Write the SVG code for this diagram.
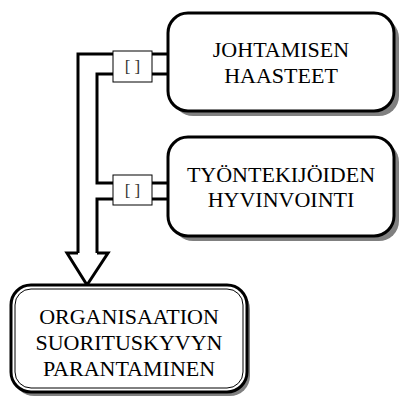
<svg xmlns="http://www.w3.org/2000/svg" width="401" height="406" viewBox="0 0 401 406">
  <style>
    .node { fill: #ffffff; stroke: #000000; stroke-width: 3; }
    .shadow { fill: #808080; stroke: none; }
    .label { font-family: "Liberation Serif", "Times New Roman", serif; font-size: 22px; fill: #000000; text-anchor: middle; }
    .pipe { fill: none; stroke: #000000; stroke-width: 3; stroke-linejoin: miter; }
    .tag { fill: #ffffff; stroke: #000000; stroke-width: 1; }
    .tagtext { font-family: "Liberation Serif", "Times New Roman", serif; font-size: 17px; fill: #333333; text-anchor: middle; }
  </style>
  <rect width="401" height="406" fill="#ffffff"/>

  <!-- connectors: double-line pipe merging into a hollow arrow -->
  <g id="connectors">
    <path class="pipe" d="M168,54 H78 V253"/>
    <path class="pipe" d="M168,74 H97 V183 H168"/>
    <path class="pipe" d="M168,199 H97 V253"/>
    <path class="pipe" d="M78,253 H67 L87,285 L108,253 H97" fill="#ffffff"/>
    <g id="tag1">
      <rect class="tag" x="113" y="51" width="39" height="31"/>
      <text class="tagtext" x="132.5" y="72">[ ]</text>
    </g>
    <g id="tag2">
      <rect class="tag" x="113" y="175" width="39" height="30"/>
      <text class="tagtext" x="132.5" y="196">[ ]</text>
    </g>
  </g>

  <g id="johtamisen-haasteet">
    <rect class="shadow" x="173" y="18" width="226" height="98" rx="20"/>
    <rect class="node" x="168" y="13" width="226" height="98" rx="20"/>
    <text class="label" x="281" y="57">JOHTAMISEN</text>
    <text class="label" x="281" y="83">HAASTEET</text>
  </g>

  <g id="tyontekijoiden-hyvinvointi">
    <rect class="shadow" x="173" y="142" width="226" height="99" rx="20"/>
    <rect class="node" x="168" y="137" width="226" height="99" rx="20"/>
    <text class="label" x="281" y="182">TYÖNTEKIJÖIDEN</text>
    <text class="label" x="281" y="207">HYVINVOINTI</text>
  </g>

  <g id="organisaation-suorituskyvyn-parantaminen">
    <rect class="shadow" x="14" y="289" width="236" height="107" rx="20"/>
    <rect class="node" x="11" y="285" width="236" height="107" rx="20" stroke-width="2.5"/>
    <rect x="15" y="289" width="228" height="99" rx="16" fill="none" stroke="#000000" stroke-width="1"/>
    <text class="label" x="129" y="324">ORGANISAATION</text>
    <text class="label" x="129" y="350">SUORITUSKYVYN</text>
    <text class="label" x="129" y="376">PARANTAMINEN</text>
  </g>
</svg>
